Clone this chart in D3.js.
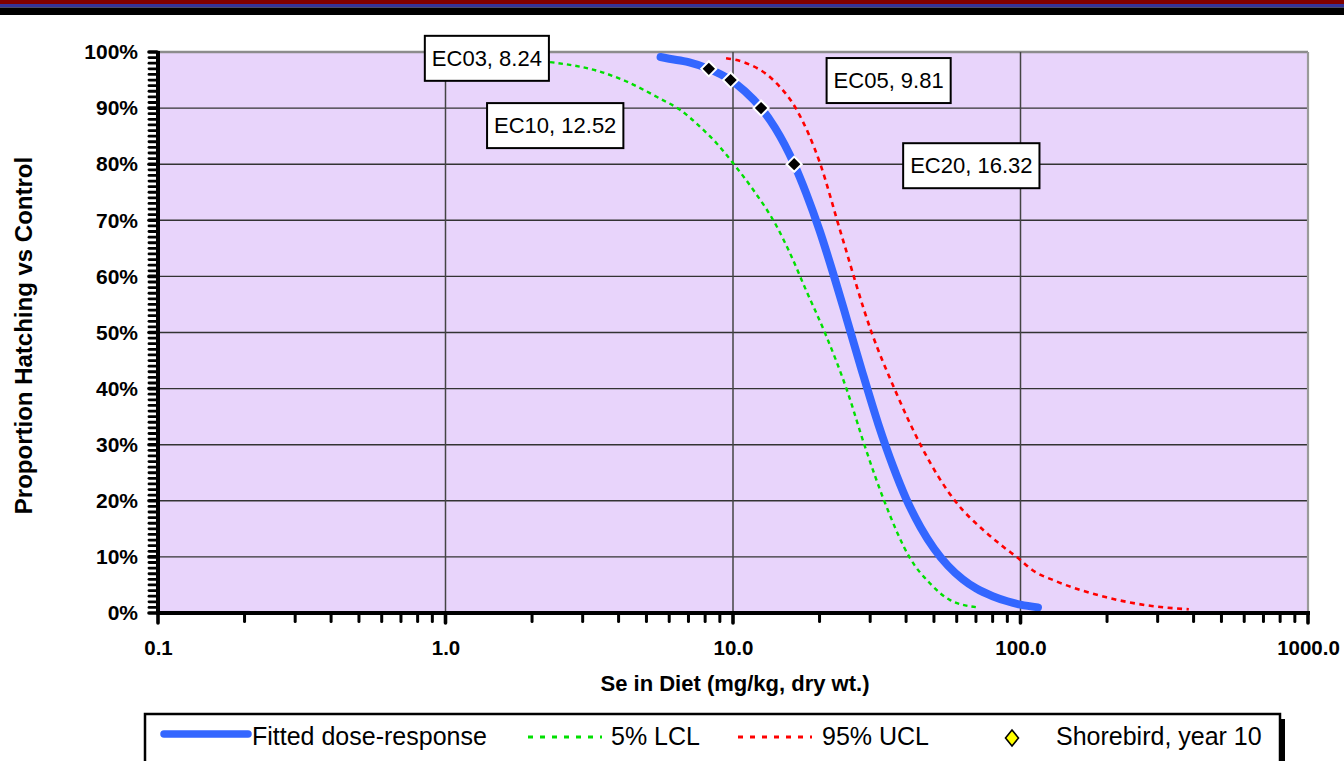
<!DOCTYPE html>
<html><head><meta charset="utf-8">
<script src="https://cdn.jsdelivr.net/npm/d3@7"></script>
<style>
body{margin:0;background:#fff}
svg{display:block}
text{font-family:Arial,"Liberation Sans",sans-serif}
</style>
</head><body>
<svg id="c" width="1344" height="761"></svg>
<script>
// ---- data ----
const fittedX = [5.6, 6, 7, 8.24, 9.81, 11, 12.52, 14, 16.32, 18, 20, 22.5, 25, 28, 32, 36, 40, 45, 50, 56, 63, 70, 80, 90, 100, 115];
const fittedY = [99.1, 98.8, 98.2, 97, 95, 93, 90, 86.5, 80, 74.7, 68.2, 59.9, 52, 43.4, 33.7, 26.2, 20.4, 15.2, 11.5, 8.4, 6.0, 4.4, 3.0, 2.1, 1.5, 1.0];

const lclX = [2.31, 3.45, 4.15, 5.57, 6.54, 7.67, 8.78, 10.0, 11.77, 14.2, 15.6, 18, 20.9, 24.9, 28.8, 33.8, 41.3, 48.4, 56.9, 71.1];
const lclY = [98.2, 96.5, 95.0, 91.7, 89.7, 86.7, 83.7, 80.2, 75.4, 68.9, 64.7, 57.4, 49.9, 39.75, 29.6, 19.6, 9.75, 5.3, 2.3, 1.0];

const uclX = [9.46, 10.86, 13.8, 16.65, 20.07, 23.55, 30.4, 36.6, 45.3, 51.8, 60.0, 74.2, 87.1, 98.3, 109.6, 134, 199, 286, 385];
const uclY = [98.9, 98.2, 95.0, 89.7, 80.2, 68.3, 49.9, 39.75, 29.6, 24.3, 19.6, 14.8, 11.8, 9.75, 7.7, 5.6, 2.8, 1.25, 0.66];

const ecNames = ["EC03", "EC05", "EC10", "EC20"];
const ecX = [8.24, 9.81, 12.52, 16.32];
const ecY = [97, 95, 90, 80];

const shorebirdX = [];
const shorebirdY = [];

const xTicks = [0.1, 1, 10, 100, 1000];
const xTickLabels = ["0.1", "1.0", "10.0", "100.0", "1000.0"];
const yTicks = [0, 10, 20, 30, 40, 50, 60, 70, 80, 90, 100];
const yTickLabels = ["0%", "10%", "20%", "30%", "40%", "50%", "60%", "70%", "80%", "90%", "100%"];

const legendLabels = ["Fitted dose-response", "5% LCL", "95% UCL", "Shorebird, year 10"];
const xTitle = "Se in Diet (mg/kg, dry wt.)";
const yTitle = "Proportion Hatching vs Control";

// ---- layout ----
const W = 1344, H = 761;
const L = 158, R = 1308, T = 52, B = 613;
const svg = d3.select("#c");

const x = d3.scaleLog().domain([0.1, 1000]).range([L, R]);
const y = d3.scaleLinear().domain([0, 100]).range([B, T]);

// header bars
svg.append("rect").attr("x", 0).attr("y", 0).attr("width", W).attr("height", 4).attr("fill", "#800000");
svg.append("rect").attr("x", 0).attr("y", 4).attr("width", W).attr("height", 3.5).attr("fill", "#333399");
svg.append("rect").attr("x", 0).attr("y", 7.5).attr("width", W).attr("height", 7.5).attr("fill", "#000");

// plot background
svg.append("rect").attr("x", L).attr("y", T).attr("width", R - L).attr("height", B - T).attr("fill", "#E8D4FB");

// grid
const g = svg.append("g");
g.selectAll(".hg").data(yTicks.filter(v => v > 0 && v < 100)).join("line")
  .attr("x1", L).attr("x2", R).attr("y1", d => y(d)).attr("y2", d => y(d))
  .attr("stroke", "#333").attr("stroke-width", 1.4);
g.append("line").attr("x1", L).attr("x2", R).attr("y1", y(100)).attr("y2", y(100))
  .attr("stroke", "#8c8c8c").attr("stroke-width", 2.5);
g.selectAll(".vg").data(xTicks.filter(v => v > 0.1 && v < 1000)).join("line")
  .attr("x1", d => x(d)).attr("x2", d => x(d)).attr("y1", T).attr("y2", B)
  .attr("stroke", "#444").attr("stroke-width", 1.5);
g.append("line").attr("x1", x(1000)).attr("x2", x(1000)).attr("y1", T).attr("y2", B)
  .attr("stroke", "#9a9a9a").attr("stroke-width", 2.2);

// curves
const line = d3.line().x(d => x(d[0])).y(d => y(d[1])).curve(d3.curveMonotoneX);
const lcl = lclX.map((v, i) => [v, lclY[i]]);
const ucl = uclX.map((v, i) => [v, uclY[i]]);
const fit = fittedX.map((v, i) => [v, fittedY[i]]);

svg.append("path").attr("d", line(lcl)).attr("fill", "none")
  .attr("stroke", "#00E000").attr("stroke-width", 2.4).attr("stroke-dasharray", "4.5,4");
svg.append("path").attr("d", line(ucl)).attr("fill", "none")
  .attr("stroke", "#FF0000").attr("stroke-width", 2.6).attr("stroke-dasharray", "5,4.5");
svg.append("path").attr("d", line(fit)).attr("fill", "none")
  .attr("stroke", "#3366FF").attr("stroke-width", 8).attr("stroke-linecap", "round").attr("stroke-linejoin", "round");

// axes
// y axis minor ticks
svg.append("g").selectAll("line").data(d3.range(0, 101, 1)).join("line")
  .attr("x1", L - 9).attr("x2", L - 1).attr("y1", d => y(d)).attr("y2", d => y(d))
  .attr("stroke", "#000").attr("stroke-width", d => d % 10 === 0 ? 3.6 : 2.8).attr("stroke-linecap", "round");
svg.append("line").attr("x1", L).attr("x2", L).attr("y1", T - 1).attr("y2", B + 2)
  .attr("stroke", "#000").attr("stroke-width", 4);

const yAxis = d3.axisLeft(y).tickValues(yTicks).tickSize(0).tickPadding(20)
  .tickFormat((d, i) => yTickLabels[i]);
const ya = svg.append("g").attr("transform", `translate(${L},0)`).call(yAxis);
ya.select(".domain").remove();
ya.selectAll("text").attr("font-size", 21).attr("font-weight", "bold").attr("fill", "#000")
  .attr("font-family", "Arial, 'Liberation Sans', sans-serif");

// x axis minor ticks
const xMinor = [];
for (let k = -1; k < 3; k++) for (let m = 1; m < 10; m++) xMinor.push(m * Math.pow(10, k));
xMinor.push(1000);
svg.append("g").selectAll("line").data(xMinor).join("line")
  .attr("x1", d => x(d)).attr("x2", d => x(d)).attr("y1", B + 1).attr("y2", (d, i) => (i % 9 === 0) ? B + 10 : B + 8.5)
  .attr("stroke", "#000").attr("stroke-width", (d, i) => (i % 9 === 0) ? 3.6 : 3).attr("stroke-linecap", "round");
svg.append("line").attr("x1", L - 2).attr("x2", R + 2).attr("y1", B).attr("y2", B)
  .attr("stroke", "#000").attr("stroke-width", 4);

const xAxis = d3.axisBottom(x).tickValues(xTicks).tickSize(0).tickPadding(27)
  .tickFormat((d, i) => xTickLabels[i]);
const xa = svg.append("g").attr("transform", `translate(0,${B})`).call(xAxis);
xa.select(".domain").remove();
xa.selectAll("text").attr("font-size", 20.5).attr("font-weight", "bold").attr("fill", "#000")
  .attr("font-family", "Arial, 'Liberation Sans', sans-serif");

// axis titles
svg.append("text").attr("x", (L + R) / 2 + 2).attr("y", 691).attr("text-anchor", "middle")
  .attr("font-size", 22).attr("font-weight", "bold").text(xTitle);
svg.append("text").attr("transform", `translate(32,${(T + B) / 2 + 3}) rotate(-90)`).attr("text-anchor", "middle")
  .attr("font-size", 24).attr("font-weight", "bold").text(yTitle);

// EC markers
const diamond = d3.symbol(d3.symbolSquare, 115);
svg.append("g").selectAll("path").data(ecX).join("path")
  .attr("d", diamond())
  .attr("transform", (d, i) => `translate(${x(d)},${y(ecY[i])}) rotate(45)`)
  .attr("fill", "#000").attr("stroke", "#fff").attr("stroke-width", 2);

// EC labels (box offsets relative to marker)
const labelOffsets = [[-284, -33], [96, -22], [-274, -5], [109, -21]];
ecX.forEach((v, i) => {
  const px = x(v) + labelOffsets[i][0], py = y(ecY[i]) + labelOffsets[i][1];
  const gg = svg.append("g");
  const t = gg.append("text").attr("font-size", 22).attr("fill", "#000")
    .text(`${ecNames[i]}, ${v.toFixed(2)}`);
  const w = t.node().getComputedTextLength();
  gg.insert("rect", "text").attr("x", px).attr("y", py).attr("width", w + 14).attr("height", 45)
    .attr("fill", "#fff").attr("stroke", "#000").attr("stroke-width", 2);
  t.attr("x", px + 7).attr("y", py + 30);
});

// shorebird points (none in view)
svg.append("g").selectAll("path").data(shorebirdX).join("path")
  .attr("d", d3.symbol(d3.symbolDiamond, 100)())
  .attr("transform", (d, i) => `translate(${x(d)},${y(shorebirdY[i])})`)
  .attr("fill", "#FFFF00").attr("stroke", "#000");

// legend
const lg = svg.append("g");
lg.append("rect").attr("x", 150).attr("y", 719).attr("width", 1135).attr("height", 60).attr("fill", "#000");
lg.append("rect").attr("x", 145).attr("y", 714).attr("width", 1135).attr("height", 60)
  .attr("fill", "#fff").attr("stroke", "#000").attr("stroke-width", 2.5);
const legY = 736;
const legendSwatchX = [[164, 248], [528, 602], [738, 812], [1012]];
const legendTextX = [252, 611, 822, 1056];
lg.append("line").attr("x1", legendSwatchX[0][0]).attr("x2", legendSwatchX[0][1]).attr("y1", legY - 2).attr("y2", legY - 2)
  .attr("stroke", "#3366FF").attr("stroke-width", 7.5).attr("stroke-linecap", "round");
lg.append("line").attr("x1", legendSwatchX[1][0]).attr("x2", legendSwatchX[1][1]).attr("y1", legY + 1).attr("y2", legY + 1)
  .attr("stroke", "#00E000").attr("stroke-width", 3).attr("stroke-dasharray", "5,7");
lg.append("line").attr("x1", legendSwatchX[2][0]).attr("x2", legendSwatchX[2][1]).attr("y1", legY + 1).attr("y2", legY + 1)
  .attr("stroke", "#FF0000").attr("stroke-width", 3).attr("stroke-dasharray", "5,7");
lg.append("path").attr("d", "M0,-8L6.5,0L0,8L-6.5,0Z")
  .attr("transform", `translate(${legendSwatchX[3][0]},${legY + 2})`)
  .attr("fill", "#FFFF00").attr("stroke", "#000").attr("stroke-width", 1.6);
legendLabels.forEach((s, i) => {
  lg.append("text").attr("x", legendTextX[i]).attr("y", legY + 9).attr("font-size", 25).attr("fill", "#000").text(s);
});
</script>
</body></html>
